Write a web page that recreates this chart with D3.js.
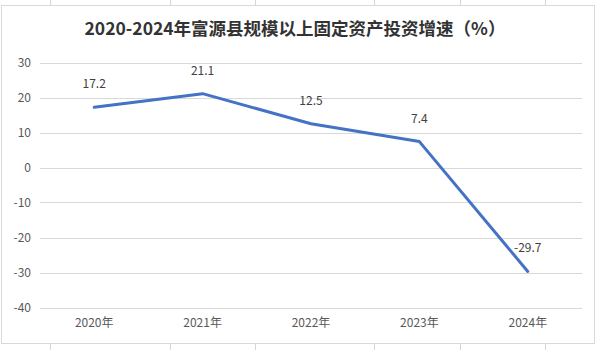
<!DOCTYPE html>
<html><head><meta charset="utf-8">
<script src="https://cdn.jsdelivr.net/npm/d3@7"></script>
<style>html,body{margin:0;padding:0;background:#fff;}svg{display:block;}</style>
</head><body>
<script>
const categories = ["2020年","2021年","2022年","2023年","2024年"];
const values = [17.2, 21.1, 12.5, 7.4, -29.7];
const yTicks = [30,20,10,0,-10,-20,-30,-40];
const title = "2020-2024年富源县规模以上固定资产投资增速（%）";

const W = 600, H = 350;
const svg = d3.select("body").append("svg").attr("width", W).attr("height", H);
const font = "'Noto Sans CJK SC','Noto Sans',sans-serif";

// spreadsheet background lines
const cellX = [50,170,255,374,460,545];
cellX.forEach(x => {
  svg.append("line").attr("x1",x+0.5).attr("x2",x+0.5).attr("y1",0).attr("y2",5).attr("stroke","#d6d6d6");
  svg.append("line").attr("x1",x+0.5).attr("x2",x+0.5).attr("y1",344).attr("y2",350).attr("stroke","#d6d6d6");
});
// chart frame
svg.append("rect").attr("x",1.5).attr("y",5.5).attr("width",593).attr("height",338)
  .attr("fill","#fff").attr("stroke","#d9d9d9");

const x = d3.scaleBand().domain(categories).range([40, 582]);
const y = d3.scaleLinear().domain([-40, 30]).range([307.5, 62.5]);

// gridlines
svg.append("g").selectAll("line").data(yTicks).join("line")
  .attr("x1",40).attr("x2",582)
  .attr("y1",d=>Math.round(y(d))+0.5).attr("y2",d=>Math.round(y(d))+0.5)
  .attr("stroke","#d9d9d9").attr("stroke-width",1);

// y axis labels
const yAxis = d3.axisLeft(y).tickValues(yTicks).tickSize(0).tickPadding(0).tickFormat(d=>String(d));
const gy = svg.append("g").attr("transform","translate(31,0)").call(yAxis);
gy.select(".domain").remove();
gy.selectAll("text").attr("font-family",font).attr("font-size",12).attr("fill","#595959");

// x axis labels
const xAxis = d3.axisBottom(x).tickSize(0).tickPadding(0);
const gx = svg.append("g").attr("transform","translate(0,318)").call(xAxis);
gx.select(".domain").remove();
gx.selectAll("text").attr("font-family",font).attr("font-size",12).attr("fill","#595959");

// line
const line = d3.line().x((d,i)=>x(categories[i])+x.bandwidth()/2).y(d=>y(d));
svg.append("path").datum(values).attr("d",line).attr("fill","none")
  .attr("stroke","#4472c4").attr("stroke-width",3).attr("stroke-linejoin","round").attr("stroke-linecap","round");

// labels
svg.append("g").selectAll("text").data(values).join("text")
  .attr("x",(d,i)=>x(categories[i])+x.bandwidth()/2)
  .attr("y",d=>y(d)-19)
  .attr("text-anchor","middle")
  .attr("font-family",font).attr("font-size",12).attr("fill","#404040")
  .text(d=>String(d));

// title
svg.append("text").attr("x",295).attr("y",35).attr("text-anchor","middle")
  .attr("font-family",font).attr("font-size",17.5).attr("font-weight","bold").attr("fill","#333")
  .text(title);
</script>
</body></html>
